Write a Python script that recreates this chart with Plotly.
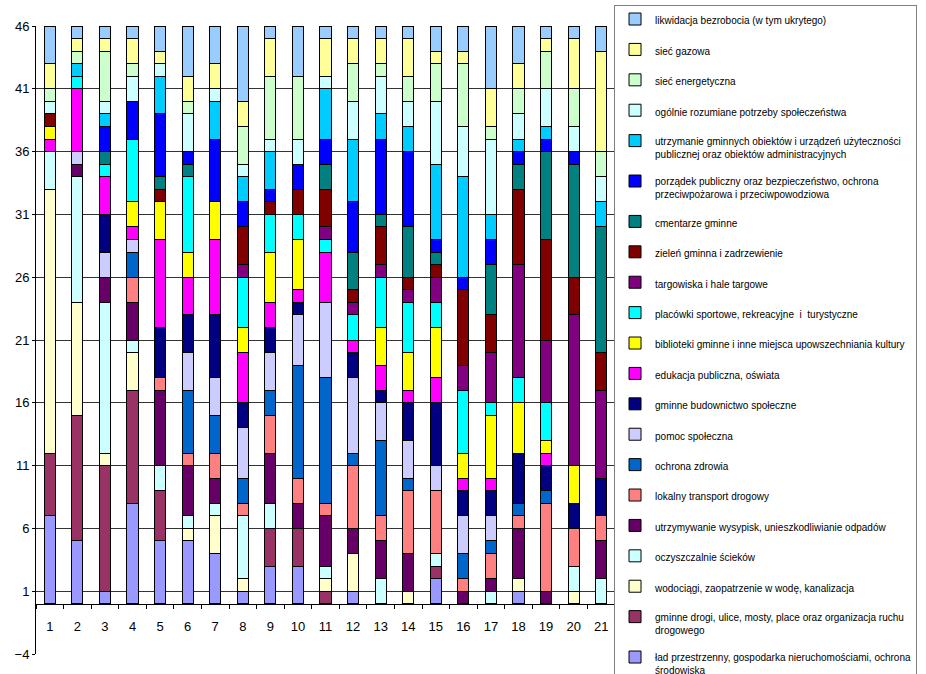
import plotly.graph_objects as go

categories = ["1", "2", "3", "4", "5", "6", "7", "8", "9", "10", "11",
              "12", "13", "14", "15", "16", "17", "18", "19", "20", "21"]

# series listed bottom of the stack first
lad = [7, 5, 1, 8, 5, 5, 4, 1, 3, 3, 0, 1, 0, 0, 2, 0, 0, 1, 0, 0, 0]
drogi = [5, 10, 10, 9, 4, 0, 0, 0, 3, 3, 1, 0, 0, 0, 1, 0, 0, 0, 0, 0, 0]
wodociagi = [21, 9, 1, 3, 0, 1, 3, 1, 0, 0, 1, 3, 0, 1, 0, 0, 0, 1, 0, 1, 0]
oczyszczalnie = [3, 10, 12, 1, 2, 1, 1, 5, 2, 0, 1, 0, 2, 0, 1, 0, 1, 0, 0, 2, 2]
wysypiska = [0, 1, 2, 3, 6, 4, 2, 0, 4, 2, 4, 2, 3, 3, 0, 1, 1, 4, 1, 0, 3]
transport = [0, 0, 0, 2, 1, 1, 2, 1, 3, 2, 1, 5, 2, 5, 5, 1, 2, 1, 7, 3, 2]
zdrowie = [0, 0, 0, 2, 0, 5, 3, 2, 2, 9, 10, 1, 6, 1, 0, 2, 1, 1, 1, 0, 0]
pomoc = [0, 1, 2, 1, 0, 3, 3, 4, 3, 4, 6, 6, 3, 3, 2, 3, 2, 0, 0, 0, 0]
budownictwo = [0, 0, 3, 0, 4, 3, 5, 2, 2, 1, 0, 2, 1, 3, 5, 2, 2, 4, 2, 2, 3]
edukacja = [1, 5, 3, 1, 7, 3, 6, 4, 2, 1, 4, 1, 2, 1, 2, 1, 1, 0, 1, 0, 0]
biblioteki = [1, 0, 0, 2, 3, 2, 3, 2, 4, 4, 0, 0, 3, 3, 4, 2, 5, 4, 1, 3, 0]
sport = [0, 1, 1, 5, 0, 6, 0, 4, 3, 2, 1, 2, 4, 4, 2, 5, 1, 2, 3, 0, 0]
targowiska = [0, 0, 0, 0, 0, 0, 0, 1, 0, 0, 1, 1, 1, 1, 2, 2, 4, 9, 5, 12, 7]
zielen = [1, 0, 0, 0, 1, 0, 0, 3, 1, 2, 3, 1, 3, 1, 1, 6, 3, 6, 8, 3, 3]
cmentarze = [0, 0, 1, 0, 1, 1, 0, 0, 0, 0, 2, 3, 1, 4, 1, 0, 4, 2, 7, 9, 10]
porzadek = [0, 0, 2, 3, 5, 1, 5, 2, 1, 2, 2, 4, 6, 6, 1, 1, 2, 1, 1, 1, 0]
obiekty = [0, 1, 1, 0, 3, 0, 3, 2, 3, 0, 4, 5, 2, 2, 6, 8, 2, 1, 1, 0, 2]
potrzeby = [1, 0, 1, 2, 1, 3, 1, 1, 1, 2, 1, 3, 3, 2, 5, 4, 6, 2, 3, 2, 2]
energetyczna = [1, 1, 4, 1, 0, 1, 0, 3, 5, 5, 0, 3, 1, 2, 3, 5, 1, 2, 3, 3, 2]
gazowa = [2, 1, 1, 2, 1, 2, 2, 2, 3, 0, 3, 2, 2, 3, 1, 1, 3, 2, 1, 4, 8]
bezrobocie = [3, 1, 1, 1, 2, 4, 3, 6, 1, 4, 1, 1, 1, 1, 2, 2, 5, 3, 1, 1, 2]

series = [
    ("ład przestrzenny, gospodarka nieruchomościami, ochrona<br>środowiska", lad, "#9999FF"),
    ("gminne drogi, ulice, mosty, place oraz organizacja ruchu<br>drogowego", drogi, "#993366"),
    ("wodociągi, zaopatrzenie w wodę, kanalizacja", wodociagi, "#FFFFCC"),
    ("oczyszczalnie ścieków", oczyszczalnie, "#CCFFFF"),
    ("utrzymywanie wysypisk, unieszkodliwianie odpadów", wysypiska, "#660066"),
    ("lokalny transport drogowy", transport, "#FF8080"),
    ("ochrona zdrowia", zdrowie, "#0066CC"),
    ("pomoc społeczna", pomoc, "#CCCCFF"),
    ("gminne budownictwo społeczne", budownictwo, "#000080"),
    ("edukacja publiczna, oświata", edukacja, "#FF00FF"),
    ("biblioteki gminne i inne miejsca upowszechniania kultury", biblioteki, "#FFFF00"),
    ("placówki sportowe, rekreacyjne  i  turystyczne", sport, "#00FFFF"),
    ("targowiska i hale targowe", targowiska, "#800080"),
    ("zieleń gminna i zadrzewienie", zielen, "#800000"),
    ("cmentarze gminne", cmentarze, "#008080"),
    ("porządek publiczny oraz bezpieczeństwo, ochrona<br>przeciwpożarowa i przeciwpowodziowa", porzadek, "#0000FF"),
    ("utrzymanie gminnych obiektów i urządzeń użyteczności<br>publicznej oraz obiektów administracyjnych", obiekty, "#00CCFF"),
    ("ogólnie rozumiane potrzeby społeczeństwa", potrzeby, "#CCFFFF"),
    ("sieć energetyczna", energetyczna, "#CCFFCC"),
    ("sieć gazowa", gazowa, "#FFFF99"),
    ("likwidacja bezrobocia (w tym ukrytego)", bezrobocie, "#99CCFF"),
]

fig = go.Figure()
for i, (name, vals, color) in enumerate(series):
    fig.add_trace(go.Bar(
        x=categories, y=vals, name=name, legendgroup=name,
        legendrank=len(series) - i,
        marker=dict(color=color, line=dict(color="black", width=1)),
    ))

fig.update_layout(
    width=926, height=674,
    barmode="stack", bargap=0.6,
    paper_bgcolor="white", plot_bgcolor="white",
    font=dict(family="Liberation Sans, Arial", color="black", size=13),
    margin=dict(l=36, r=311, t=26, b=20, autoexpand=False),
    xaxis=dict(
        type="category", anchor="free", position=0.08,
        showline=True, linecolor="black", linewidth=1,
        ticks="outside", tickson="boundaries", ticklen=4, tickcolor="black",
        showgrid=False, ticklabelstandoff=11, tickfont=dict(size=13),
    ),
    yaxis=dict(
        range=[-4, 46], tick0=1, dtick=5,
        showline=True, linecolor="black", linewidth=1,
        ticks="outside", ticklen=3, tickcolor="black",
        showgrid=True, gridcolor="#333333", gridwidth=1,
        zeroline=False, tickfont=dict(size=13),
    ),
    legend=dict(
        x=0.9983, y=1.0334, xanchor="left", yanchor="top",
        traceorder="grouped", tracegroupgap=11.4,
        valign="top", bordercolor="#808080", borderwidth=1,
        bgcolor="white", font=dict(size=10), maxheight=1000,
    ),
)

fig.write_html("out.html", config={"displayModeBar": False},
               post_script="document.body.style.margin='0';")
